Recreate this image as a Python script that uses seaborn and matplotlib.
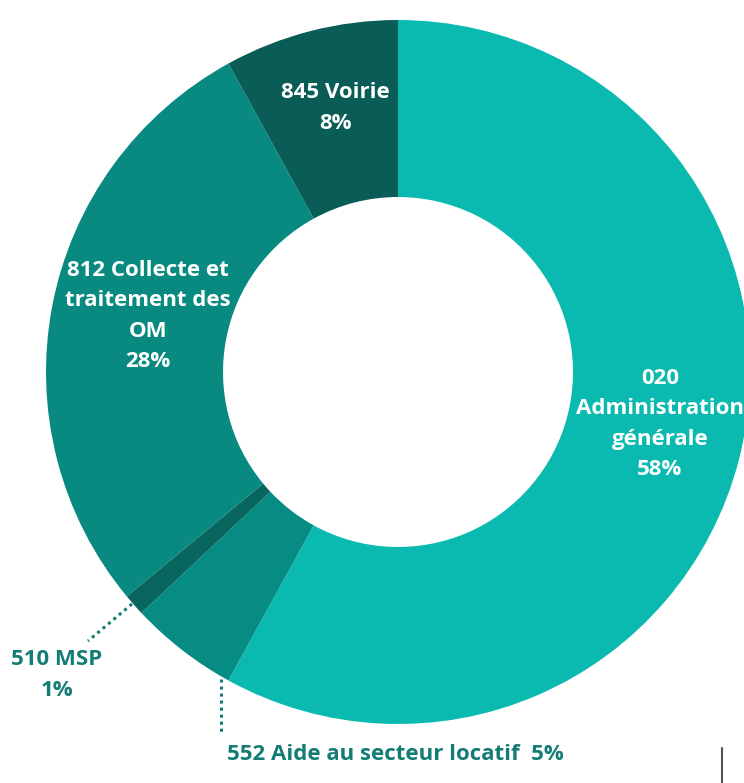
import matplotlib
matplotlib.use("Agg")
import matplotlib.pyplot as plt
import seaborn as sns

sns.set_theme(style="white")
plt.rcParams['font.family'] = ['Open Sans', 'DejaVu Sans']

categories = ["020 Administration générale", "552 Aide au secteur locatif", "510 MSP",
              "812 Collecte et traitement des OM", "845 Voirie"]
values = [58, 5, 1, 28, 8]
colors = ["#0ABAB0", "#078C84", "#08665F", "#088A80", "#0A5D57"]

W, H = 744, 783
fig = plt.figure(figsize=(W / 100, H / 100), dpi=100)
ax = fig.add_axes([0, 0, 1, 1])

cx, cy, R = 398, 372, 352
# y axis is inverted below, so counterclock=True draws clockwise on screen
ax.pie(values, colors=colors, startangle=-90, counterclock=True,
       center=(cx, cy), radius=R, wedgeprops=dict(width=177, linewidth=0),
       frame=True)
ax.set_xlim(0, W)
ax.set_ylim(H, 0)
ax.axis("off")
ax.set_aspect("equal")

fs = 16
ls = 1.58
white = dict(color="white", fontsize=fs, fontweight="bold", ha="center", va="center",
             linespacing=ls)
ax.text(335, 108, "845 Voirie\n8%", **white)
ax.text(148, 316, "812 Collecte et\ntraitement des\nOM\n28%", **white)
ax.text(660, 424, "020\nAdministration\ngénérale\n58%", **white)

dark = "#137C75"
ax.text(57, 675, "510 MSP\n1%", color=dark, fontsize=fs, fontweight="bold",
        ha="center", va="center", linespacing=ls)
ax.text(227, 755, "552 Aide au secteur locatif  5%", color=dark, fontsize=fs,
        fontweight="bold", ha="left", va="center")

ax.plot([132, 88], [604, 641], color=dark, lw=2.2, ls=(0, (1, 1.3)))
ax.plot([221, 221], [679, 735], color=dark, lw=2.2, ls=(0, (1, 1.3)))
ax.plot([722, 722], [748, 783], color="#555555", lw=1.5)

fig.savefig("out.png", dpi=100)
